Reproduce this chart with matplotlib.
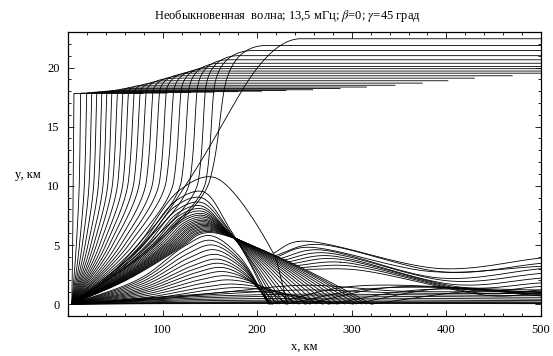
import numpy as np
import matplotlib
matplotlib.use("Agg")
import matplotlib.pyplot as plt
from matplotlib.ticker import MultipleLocator

plt.rcParams['font.family'] = ['Liberation Serif', 'DejaVu Serif']
plt.rcParams['mathtext.fontset'] = 'stix'

# launch point of all rays (km)
x0 = 4.0

# rays that escape to the upper layer: x at y=10.5, x at y=17.8,
# x where they level off, final height, x where they stop
top_m = [5.5, 12, 17.5, 22.5, 27.5, 32.5, 37.5, 42.5, 47.5, 53, 58.5, 64, 70,
         76, 83, 90, 97, 104, 112, 120, 129, 138, 146, 150, 128]
top_t = [6.3, 13.4, 19.8, 25.1, 30.4, 35.7, 41.0, 46.3, 52.2, 57.9, 63.8, 69.8,
         76.2, 82.5, 89.6, 96.6, 103.7, 111.4, 119.2, 127.3, 136.1, 144.9,
         153.8, 164.4, 182.0]
top_xe = [10, 17, 24, 30, 36, 42, 48, 55, 62, 70, 80, 93, 105, 115, 124, 133,
          140, 148, 154, 162, 170, 181, 197, 210, 246]
top_h = [17.8, 17.84, 17.88, 17.92, 17.96, 18.0, 18.05, 18.12, 18.22, 18.35,
         18.5, 18.68, 18.88, 19.1, 19.3, 19.52, 19.7, 19.9, 20.08, 20.36, 20.65,
         21.0, 21.44, 21.86, 22.43]
top_end = [80, 105, 130, 155, 180, 205, 231, 259, 288, 316, 346, 375, 402, 430,
           470, 500, 500, 500, 500, 500, 500, 500, 500, 500, 500]

# first-hop rays through the focus: x at y=5 going up, apex,
# point near focus, landing x
dome_x5 = [74, 77, 80, 83, 86, 88.5, 91, 93.5, 96, 98.5, 101, 103, 105, 107,
           109, 111, 113, 115, 117, 119, 121, 123]
dome_xa = [155, 143, 141, 141, 141, 142, 142, 143, 143, 144, 144, 145, 145,
           146, 146, 147, 147, 148, 148, 149, 149, 150]
dome_ya = [10.7, 9.5, 9.0, 8.6, 8.3, 8.05, 7.85, 7.65, 7.5, 7.35, 7.2, 7.08,
           6.96, 6.85, 6.75, 6.65, 6.55, 6.45, 6.35, 6.25, 6.15, 6.05]
dome_xd = [217, 170, 169, 169, 168, 168, 168, 168, 168, 168, 168, 168, 168,
           168, 168, 168, 168, 168, 168, 168, 168, 168]
dome_yd = [4.3, 6.5, 6.4, 6.3, 6.25, 6.2, 6.18, 6.15, 6.12, 6.1, 6.08, 6.05,
           6.03, 6.0, 5.98, 5.95, 5.92, 5.9, 5.87, 5.84, 5.8, 5.77]
dome_xg = [232, 213, 216, 220, 224, 229, 234, 239, 245, 251, 257, 263, 269,
           275, 281, 287, 293, 299, 305, 311, 316, 321]

# lower first-hop rays: apex and landing x
low_xa = [150, 151, 153, 155, 157, 159, 161, 163, 165, 168, 171, 175, 180, 186]
low_ya = [5.8, 5.4, 5.0, 4.6, 4.2, 3.8, 3.45, 3.1, 2.75, 2.4, 2.05, 1.7, 1.4,
          1.1]
low_xg = [212, 212, 213, 213, 214, 214, 215, 216, 222, 232, 244, 256, 270, 285]

# second-hop rays: start, bump, valley, height at x=500
hop_xs = [217, 219, 221, 224, 227, 231, 235, 240, 246, 252]
hop_ys = [4.3, 4.1, 4.0, 3.85, 3.7, 3.55, 3.4, 3.25, 3.1, 2.95]
hop_xb = [243, 259, 250, 262, 268, 274, 280, 288, 296, 305]
hop_yb = [5.3, 5.05, 4.8, 4.6, 4.35, 4.1, 3.85, 3.55, 3.25, 2.9]
hop_xm = [395, 400, 385, 395, 405, 410, 420, 430, 440, 450]
hop_ym = [3.0, 2.7, 2.75, 2.2, 1.95, 1.65, 1.4, 1.15, 0.9, 0.7]
hop_ye = [3.9, 3.45, 3.2, 3.0, 2.6, 2.2, 1.8, 1.5, 1.2, 1.0]

# grazing rays along the ground: heights at the x knots below
ground_x = [x0, 60, 150, 250, 350, 450, 500]
ground_y = [
    [0, 0.03, 0.05, 0.06, 0.06, 0.05, 0.04],
    [0, 0.05, 0.08, 0.1, 0.1, 0.08, 0.06],
    [0, 0.08, 0.13, 0.16, 0.15, 0.14, 0.12],
    [0, 0.1, 0.18, 0.22, 0.2, 0.2, 0.18],
    [0, 0.15, 0.3, 0.35, 0.35, 0.3, 0.3],
    [0, 0.2, 0.42, 0.5, 0.5, 0.45, 0.42],
    [0, 0.25, 0.55, 0.7, 0.65, 0.6, 0.58],
    [0, 0.3, 0.68, 0.85, 0.8, 0.75, 0.72],
    [0, 0.35, 0.8, 1.2, 0.95, 0.9, 0.88],
    [0, 0.4, 0.9, 1.6, 1.1, 1.05, 1.02],
]

# rays skipping after landing: start, peak, height at x=500
skip_xs = [215, 230, 250, 275, 300, 320]
skip_xp = [300, 320, 345, 370, 400, 430]
skip_yp = [1.5, 1.3, 1.45, 1.2, 1.35, 1.1]
skip_ye = [1.0, 1.2, 0.8, 1.05, 0.7, 0.9]

SX, SY = 473 / 500, 284 / 24


def smooth(xs, ys, n=30):
    # centripetal Catmull-Rom through the knots, in pixel-like units
    P = np.column_stack([np.asarray(xs, float) * SX, np.asarray(ys, float) * SY])
    P = np.vstack([2 * P[0] - P[1], P, 2 * P[-1] - P[-2]])
    out = []
    for i in range(1, len(P) - 2):
        p0, p1, p2, p3 = P[i - 1:i + 3]
        t0 = 0.0
        t1 = t0 + max(np.linalg.norm(p1 - p0), 1e-6) ** 0.5
        t2 = t1 + max(np.linalg.norm(p2 - p1), 1e-6) ** 0.5
        t3 = t2 + max(np.linalg.norm(p3 - p2), 1e-6) ** 0.5
        t = np.linspace(t1, t2, n)[:, None]
        a1 = (t1 - t) / (t1 - t0) * p0 + (t - t0) / (t1 - t0) * p1
        a2 = (t2 - t) / (t2 - t1) * p1 + (t - t1) / (t2 - t1) * p2
        a3 = (t3 - t) / (t3 - t2) * p2 + (t - t2) / (t3 - t2) * p3
        b1 = (t2 - t) / (t2 - t0) * a1 + (t - t0) / (t2 - t0) * a2
        b2 = (t3 - t) / (t3 - t1) * a2 + (t - t1) / (t3 - t1) * a3
        c = (t2 - t) / (t2 - t1) * b1 + (t - t1) / (t2 - t1) * b2
        out.append(c)
    C = np.vstack(out)
    return C[:, 0] / SX, C[:, 1] / SY


def pchip(xk, yk, x):
    # monotone cubic through the knots; returns values and end slope
    xk = np.asarray(xk, float)
    yk = np.asarray(yk, float)
    h = np.diff(xk)
    dl = np.diff(yk) / h
    d = np.zeros_like(yk)
    d[0], d[-1] = dl[0], dl[-1]
    for k in range(1, len(xk) - 1):
        if dl[k - 1] * dl[k] > 0:
            w1 = 2 * h[k] + h[k - 1]
            w2 = h[k] + 2 * h[k - 1]
            d[k] = (w1 + w2) / (w1 / dl[k - 1] + w2 / dl[k])
    i = np.clip(np.searchsorted(xk, x) - 1, 0, len(h) - 1)
    s = (x - xk[i]) / h[i]
    h00 = 2 * s ** 3 - 3 * s ** 2 + 1
    h10 = s ** 3 - 2 * s ** 2 + s
    h01 = -2 * s ** 3 + 3 * s ** 2
    h11 = s ** 3 - s ** 2
    y = h00 * yk[i] + h10 * h[i] * d[i] + h01 * yk[i + 1] + h11 * h[i] * d[i + 1]
    return y, d[-1]


fig = plt.figure(figsize=(5.53, 3.56), dpi=100)
ax = fig.add_axes([68 / 553, 1 - 316 / 356, 473 / 553, 284 / 356])
kw = dict(color='black', lw=0.6, solid_capstyle='butt')

for m, t, xe, h, xend in zip(top_m, top_t, top_xe, top_h, top_end):
    yy = np.linspace(0, 17.8, 80)
    x5 = x0 + 0.6 * (m - x0)
    xx, dend = pchip([0, 5, 10.5, 17.8], [x0, x5, m, t], yy)
    # turn into the upper layer
    p1x = t + (h - 17.8) * dend
    p2x = max(xe, p1x + 2)
    u = np.linspace(0, 1, 40)
    bx = (1 - u) ** 2 * t + 2 * u * (1 - u) * p1x + u ** 2 * p2x
    by = (1 - u) ** 2 * 17.8 + 2 * u * (1 - u) * h + u ** 2 * h
    ax.plot(np.r_[xx, bx, xend], np.r_[yy, by, h], **kw)

for x5, xa, ya, xd, yd, xg in zip(dome_x5, dome_xa, dome_ya, dome_xd, dome_yd,
                                  dome_xg):
    xs = [x0, x0 + 0.5 * (x5 - x0), x5, x5 + 0.55 * (xa - x5), xa, xd,
          xd + 0.5 * (xg - xd), xg]
    ys = [0, 2.1, 5, 5 + 0.82 * (ya - 5), ya, yd, 0.55 * yd, 0]
    ax.plot(*smooth(xs, ys), **kw)

for xa, ya, xg in zip(low_xa, low_ya, low_xg):
    xs = [x0, x0 + 0.5 * (xa - x0), x0 + 0.82 * (xa - x0), xa,
          xa + 0.5 * (xg - xa), xg]
    ys = [0, 0.38 * ya, 0.85 * ya, ya, 0.7 * ya, 0]
    ax.plot(*smooth(xs, ys), **kw)

for xs_, ys_, xb, yb, xm, ym, ye in zip(hop_xs, hop_ys, hop_xb, hop_yb,
                                        hop_xm, hop_ym, hop_ye):
    ax.plot(*smooth([xs_, xb, xm, 500], [ys_, yb, ym, ye]), **kw)

for gy in ground_y:
    ax.plot(*smooth(ground_x, gy), **kw)

for xs_, xp, yp, ye in zip(skip_xs, skip_xp, skip_yp, skip_ye):
    ax.plot(*smooth([xs_, xp, 500], [0, yp, ye]), **kw)

ax.set_xlim(0, 500)
ax.set_ylim(-1, 23)
ax.xaxis.set_minor_locator(MultipleLocator(20))
ax.yaxis.set_major_locator(MultipleLocator(5))
ax.yaxis.set_minor_locator(MultipleLocator(1))
ax.set_xticks([100, 200, 300, 400, 500])
ax.tick_params(which='both', direction='in', top=True, right=True,
               labelsize=9, width=0.6)
ax.tick_params(which='major', length=4, pad=6)
ax.tick_params(which='minor', length=2)
for s in ax.spines.values():
    s.set_linewidth(0.9)

fig.text(287 / 553, 1 - 16 / 356,
         'Необыкновенная  волна; 13,5 мГц; $\\beta$=0; $\\gamma$=45 град',
         ha='center', va='center', fontsize=9)
fig.text(28 / 553, 1 - 175 / 356, 'y, км', ha='center', va='center', fontsize=9)
fig.text(304 / 553, 1 - 347 / 356, 'x, км', ha='center', va='center',
         fontsize=9)

fig.savefig('out.png', dpi=100)
